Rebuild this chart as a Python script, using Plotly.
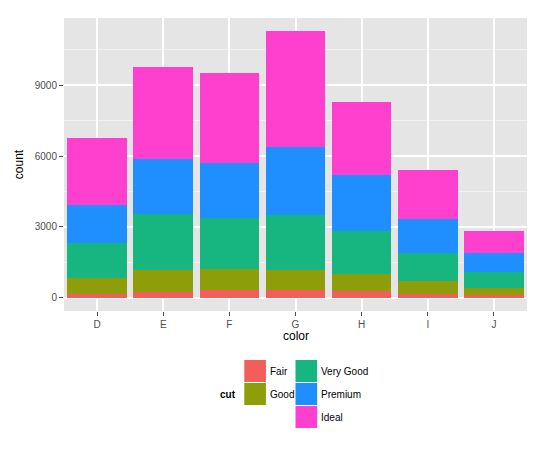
import plotly.graph_objects as go

colors_cat = ["D", "E", "F", "G", "H", "I", "J"]
cuts = ["Fair", "Good", "Very Good", "Premium", "Ideal"]
counts = {
    "Fair": [163, 224, 312, 314, 303, 175, 119],
    "Good": [662, 933, 909, 871, 702, 522, 307],
    "Very Good": [1513, 2400, 2164, 2299, 1824, 1204, 678],
    "Premium": [1603, 2337, 2331, 2924, 2360, 1428, 808],
    "Ideal": [2834, 3903, 3826, 4884, 3115, 2093, 896],
}
fills = ["#F35E5A", "#8E9E0B", "#17B57F", "#1F8FFF", "#FF3FCE"]

fig = go.Figure()
for cut, col in zip(cuts, fills):
    fig.add_bar(x=colors_cat, y=counts[cut], name=cut, marker_color=col,
                marker_line_width=0, width=0.9)

# page body adds an 8px margin, so shrink the figure by that much
OFF = 8
W, H = 546 - OFF, 455 - OFF
L, R, T, B = 57 - OFF, 19, 18 - OFF, 144
pw, ph = W - L - R, H - T - B

def px(x):
    return (x - OFF - L) / pw

def py(y):
    return (H - B - (y - OFF)) / ph

# manual legend, two columns like ggplot
legend_pos = [(240, 360), (240, 383), (292, 360), (292, 383), (292, 406)]
shapes = []
ann = []
for cut, col, (lx, ly) in zip(cuts, fills, legend_pos):
    shapes.append(dict(type="rect", xref="paper", yref="paper",
                       x0=px(lx), x1=px(lx + 22), y0=py(ly + 22), y1=py(ly),
                       fillcolor=col, line_width=0))
    ann.append(dict(xref="paper", yref="paper", x=px(lx + 24), y=py(ly + 11.5),
                    text=cut, showarrow=False, xanchor="left", yanchor="middle",
                    font=dict(size=10, color="black")))
ann.append(dict(xref="paper", yref="paper", x=px(234), y=py(394.5), text="<b>cut</b>",
                showarrow=False, xanchor="right", yanchor="middle",
                font=dict(size=10, color="black")))
ann.append(dict(xref="paper", yref="paper", x=0.5, y=py(336), text="color",
                showarrow=False, yanchor="middle", font=dict(size=12, color="black")))

fig.update_layout(
    barmode="stack", width=W, height=H, showlegend=False,
    margin=dict(l=L, r=R, t=T, b=B),
    paper_bgcolor="white", plot_bgcolor="#E5E5E5",
    font=dict(family="Liberation Sans, Arial, sans-serif"),
    shapes=shapes, annotations=ann, bargap=0.1,
)
fig.update_xaxes(showgrid=True, gridcolor="white", gridwidth=1.5, ticks="outside",
                 ticklen=4, tickcolor="#4D4D4D", tickfont=dict(size=10, color="#4D4D4D"),
                 zeroline=False)
fig.update_yaxes(range=[-565, 11856], tickvals=[0, 3000, 6000, 9000],
                 showgrid=True, gridcolor="white", gridwidth=1.5, ticks="outside",
                 ticklen=4, tickcolor="#4D4D4D", tickfont=dict(size=10, color="#4D4D4D"),
                 minor=dict(tickvals=[1500, 4500, 7500, 10500], showgrid=True,
                            gridcolor="#F2F2F2", gridwidth=0.7),
                 zeroline=False, title=dict(text="count", font=dict(size=12, color="black"),
                                            standoff=8))
fig.write_html("out.html")
